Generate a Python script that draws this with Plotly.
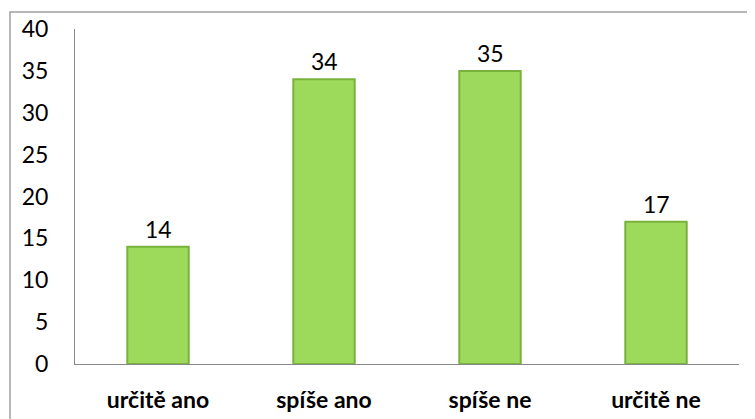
import plotly.graph_objects as go

categories = ['určitě ano', 'spíše ano', 'spíše ne', 'určitě ne']
values = [14, 34, 35, 17]
y_ticks = [0, 5, 10, 15, 20, 25, 30, 35, 40]

FONT = 'Lato'

fig = go.Figure()
fig.add_trace(go.Bar(
    x=categories,
    y=values,
    marker=dict(color='#9DDA5B', line=dict(color='#78B23C', width=2)),
    width=0.37,
))

# data labels sit a bit higher above the bars than plotly's default
for cat, val in zip(categories, values):
    fig.add_annotation(
        x=cat, y=val, text=str(val), showarrow=False,
        yanchor='middle', yshift=18,
        font=dict(family=FONT, size=23, color='#000000'),
    )

# page body has an 8px margin, so the figure is a bit smaller than the window
fig.update_layout(
    width=747,
    height=411,
    margin=dict(l=67, r=16, t=21, b=55),
    paper_bgcolor='white',
    plot_bgcolor='white',
    showlegend=False,
    font=dict(family=FONT, size=23, color='#000000'),
    xaxis=dict(
        automargin=False,
        showgrid=False,
        showline=True,
        linecolor='#888888',
        linewidth=1,
        ticks='',
        ticklabelstandoff=15,
        tickfont=dict(family=FONT, size=23, color='#000000', weight='bold'),
    ),
    yaxis=dict(
        automargin=False,
        range=[0, 40],
        tickvals=y_ticks,
        showgrid=False,
        zeroline=False,
        showline=True,
        linecolor='#888888',
        linewidth=1,
        ticks='',
        ticklabelstandoff=21,
        tickfont=dict(family=FONT, size=23, color='#000000'),
    ),
    shapes=[dict(
        type='rect', xref='paper', yref='paper',
        x0=(2 - 67) / 664, x1=1.2, y0=-0.5, y1=1 + (21 - 4) / 335,
        line=dict(color='#A0A0A0', width=1.5),
        fillcolor='rgba(0,0,0,0)', layer='below',
    )],
)

fig.write_html('out.html')
